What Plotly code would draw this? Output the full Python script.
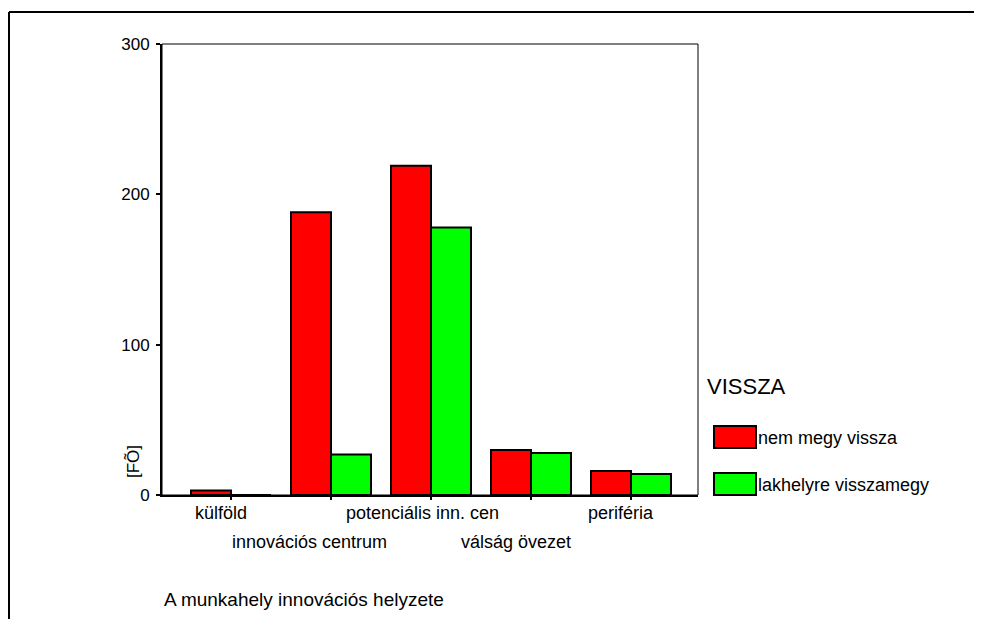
import plotly.graph_objects as go

categories = ["külföld", "innovációs centrum", "potenciális inn. cen", "válság övezet", "periféria"]
series_names = ["nem megy vissza", "lakhelyre visszamegy"]
nem_megy_vissza = [3, 188, 219, 30, 16]
lakhelyre_visszamegy = [0, 27, 178, 28, 14]
y_ticks = [0, 100, 200, 300]
legend_title = "VISSZA"
x_title = "A munkahely innovációs helyzete"
y_title = "[FÕ]"
colors = ["#FF0000", "#00FF00"]

# layout-only styling
label_xshift = [-10, -22, -9, -15, -10]

OFF = 8  # default page body margin
W, H = 982 - OFF, 619 - OFF
L, T, PW, PH = 162 - OFF, 44 - OFF, 536, 451
R, B = W - L - PW, H - T - PH
FONT = "Arial, Liberation Sans, sans-serif"


def px(x):
    """page pixel x -> paper coordinate"""
    return (x - OFF - L) / PW


def py(y):
    """page pixel y -> paper coordinate"""
    return (T + PH - (y - OFF)) / PH


xs = list(range(len(categories)))
fig = go.Figure()
for name, vals, col in zip(series_names, [nem_megy_vissza, lakhelyre_visszamegy], colors):
    fig.add_trace(go.Bar(x=xs, y=vals, name=name, marker=dict(color=col, line=dict(color="black", width=2)),
                         showlegend=False))

fig.update_layout(
    width=W, height=H, margin=dict(l=L, r=R, t=T, b=B, autoexpand=False),
    paper_bgcolor="white", plot_bgcolor="white",
    barmode="group", bargap=0.2, bargroupgap=0,
    font=dict(family=FONT, color="black", size=17),
    xaxis=dict(range=[-0.69, 4.67], tickvals=xs, ticktext=["" for _ in xs], showgrid=False, zeroline=False,
               showline=True, linecolor="black", linewidth=2, ticks="outside", ticklen=3, tickwidth=2,
               tickcolor="black"),
    yaxis=dict(range=[0, 300], tickvals=y_ticks, showgrid=False, zeroline=False, showline=True,
               linecolor="black", linewidth=2, ticks="outside", ticklen=4, tickwidth=2, tickcolor="black",
               tickfont=dict(size=17), ticklabelstandoff=3),
)

shapes = []
# plot frame top/right
shapes.append(dict(type="rect", xref="paper", yref="paper", x0=0, x1=1, y0=0, y1=1,
                   line=dict(color="black", width=1), fillcolor="rgba(0,0,0,0)"))
# outer frame lines
shapes.append(dict(type="line", xref="paper", yref="paper", x0=px(OFF + 1), x1=px(990), y0=py(12), y1=py(12),
                   line=dict(color="black", width=2)))
shapes.append(dict(type="line", xref="paper", yref="paper", x0=px(OFF + 1), x1=px(OFF + 1), y0=py(12), y1=py(625),
                   line=dict(color="black", width=2)))
# legend swatches
for i, col in enumerate(colors):
    y_top = 426 + i * 47
    shapes.append(dict(type="rect", xref="paper", yref="paper", x0=px(714), x1=px(756), y0=py(y_top + 22),
                       y1=py(y_top), fillcolor=col, line=dict(color="black", width=2)))
fig.update_layout(shapes=shapes)

ann = []
for i, c in enumerate(categories):
    ann.append(dict(x=i, y=py(513 if i % 2 == 0 else 542), xref="x", yref="paper", text=c, showarrow=False,
                    xanchor="center", yanchor="middle", xshift=label_xshift[i], font=dict(size=18)))
ann.append(dict(x=0, y=py(599), xref="paper", yref="paper", text=x_title, showarrow=False, xanchor="left",
                yanchor="middle", font=dict(size=19)))
ann.append(dict(x=px(133), y=py(462), xref="paper", yref="paper", text=y_title, showarrow=False, textangle=-90,
                xanchor="center", yanchor="middle", font=dict(size=17)))
ann.append(dict(x=px(705), y=py(386), xref="paper", yref="paper", text=legend_title, showarrow=False,
                xanchor="left", yanchor="middle", font=dict(size=22)))
for i, n in enumerate(series_names):
    ann.append(dict(x=px(756), y=py(438 + i * 47), xref="paper", yref="paper", text=n, showarrow=False,
                    xanchor="left", yanchor="middle", font=dict(size=18)))
fig.update_layout(annotations=ann)

fig.write_html("out.html")
